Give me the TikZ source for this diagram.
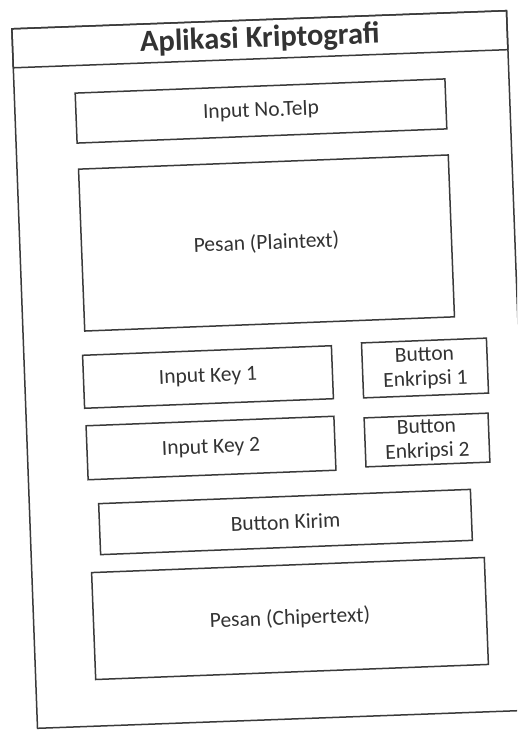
\documentclass[tikz,border=0pt]{standalone}
\usepackage{fontspec}
\setmainfont{Carlito}
\definecolor{linec}{HTML}{3A3A3A}
\definecolor{textc}{HTML}{333333}
\tikzset{
  sk/.style={rotate=2.2, draw=linec, line width=1.5pt, inner sep=0pt, align=center,
    text=textc, font=\fontsize{21.5}{24.5}\selectfont},
}
\begin{document}
\begin{tikzpicture}[x=1pt,y=-1pt]
\useasboundingbox (0,0) rectangle (517,730);
\fill[white] (0,0) rectangle (517,730);
\clip (0,0) rectangle (517,730);
% outer frame
\node[sk, rotate=-0.1, minimum width=495pt, minimum height=700pt] (frame) at (272,369.5) {};
\node[sk, rotate=-0.1, anchor=north west, minimum width=495pt, minimum height=39pt,
      font=\fontsize{30.5}{32}\selectfont\bfseries] (title) at (frame.north west) {Aplikasi Kriptografi};
% widgets
\node[sk, minimum width=370pt, minimum height=50pt] (telp) at (261,111) {Input No.Telp};
\node[sk, minimum width=370pt, minimum height=162pt] (plain) at (266.5,243) {Pesan (Plaintext)};
\node[sk, minimum width=249pt, minimum height=53pt] (key1) at (208,377) {Input Key 1};
\node[sk, minimum width=125pt, minimum height=55pt] (enk1) at (425,368) {Button\\Enkripsi 1};
\node[sk, minimum width=248pt, minimum height=54pt] (key2) at (211,448) {Input Key 2};
\node[sk, minimum width=124pt, minimum height=49pt] (enk2) at (427,440) {Button\\Enkripsi 2};
\node[sk, minimum width=372pt, minimum height=51pt] (kirim) at (285.5,522) {Button Kirim};
\node[sk, minimum width=393pt, minimum height=107pt] (chiper) at (290,618.5) {Pesan (Chipertext)};
\end{tikzpicture}
\end{document}
